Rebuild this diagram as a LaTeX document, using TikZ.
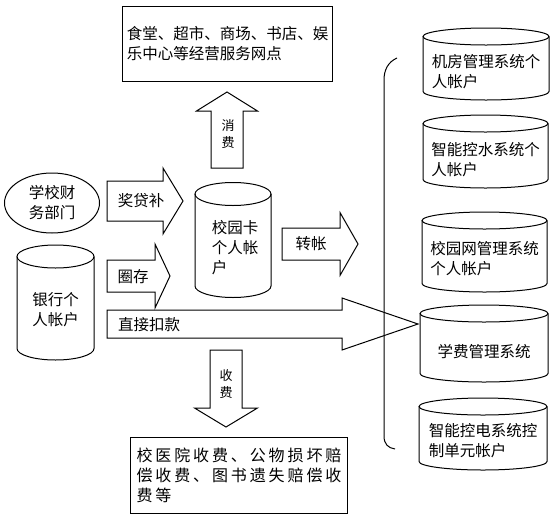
\documentclass[tikz,border=0pt]{standalone}
\usepackage{fontspec}
\setmainfont{Noto Sans CJK SC}
\newfontfamily\widecjk[LetterSpace=18]{Noto Sans CJK SC}
\usetikzlibrary{shapes.geometric}

% block arrows: tail, head base, tip, middle, shaft half width, head half width
\newcommand{\harr}[6]{%
  \draw[barr] (#1,#4-#5) -- (#2,#4-#5) -- (#2,#4-#6) -- (#3,#4)
    -- (#2,#4+#6) -- (#2,#4+#5) -- (#1,#4+#5) -- cycle;}
\newcommand{\varr}[6]{%
  \draw[barr] (#4-#5,#1) -- (#4-#5,#2) -- (#4-#6,#2) -- (#4,#3)
    -- (#4+#6,#2) -- (#4+#5,#2) -- (#4+#5,#1) -- cycle;}
% cylinders: centre x, centre y, half width, half height, end radius
\newcommand{\can}[5]{%
  \draw[canline] (#1,#2-#4+#5) ellipse[x radius=#3,y radius=#5];
  \draw[canline] (#1-#3,#2-#4+#5) -- (#1-#3,#2+#4-#5)
    arc[start angle=180,end angle=0,x radius=#3,y radius=#5] -- (#1+#3,#2-#4+#5);}

\begin{document}
\begin{tikzpicture}[
  x=1pt,y=-1pt,
  every node/.style={font=\fontsize{15.5}{20}\selectfont,inner sep=0pt,align=left},
  box/.style={draw,line width=1pt,rectangle,anchor=north west},
  canline/.style={line width=1pt},
  small/.style={font=\fontsize{13}{17}\selectfont,align=center},
  barr/.style={draw,line width=1pt,line join=miter}
]
\useasboundingbox (0,0) rectangle (557,520);

% boxes
\node[box,minimum width=210,minimum height=75] (shop) at (122,6)
  {食堂、超市、商场、书店、娱\\乐中心等经营服务网点};
\node[box,minimum width=217,minimum height=76,
  font=\widecjk\fontsize{16}{20}\selectfont] (fees) at (130,437)
  {校医院收费、公物损坏赔\\偿收费、图书遗失赔偿收\\费等};
\node[draw,line width=1pt,ellipse,minimum width=95,minimum height=60,align=center]
  (finance) at (52,203) {学校财\\务部门};

% left cylinders
\can{55.5}{302.5}{38.5}{57.5}{11.5}
\can{233}{240}{38}{57.5}{11.5}
\node (bank) at (55.5,310) {银行个\\人帐户};
\node (card) at (235,248) {校园卡\\个人帐\\户};

% right cylinders
\can{486}{64}{63}{36}{8.5}
\can{485.5}{151.5}{62.5}{36.5}{8.5}
\can{484.5}{252}{62.5}{40}{8.5}
\can{484}{343.5}{64}{38.5}{8.5}
\can{483}{434}{64}{36}{8.5}
\node (r1) at (486,72) {机房管理系统个\\人帐户};
\node (r2) at (485.5,160) {智能控水系统个\\人帐户};
\node (r3) at (484.5,259) {校园网管理系统\\个人帐户};
\node (r4) at (484,352) {学费管理系统};
\node (r5) at (483,441) {智能控电系统控\\制单元帐户};

% bracket
\draw[line width=1pt] (397,58) .. controls (388,62) and (384,70) .. (384,80)
  -- (384,436) .. controls (384,444) and (388,448) .. (395,449);

% block arrows
\harr{107}{163}{183}{201}{20}{33}
\harr{107}{155}{170}{276}{16}{32}
\harr{107}{342}{418}{324}{14}{26}
\harr{282}{340}{358}{244}{16}{31.5}
\varr{168}{111}{92}{227}{16}{30.5}
\varr{350}{408}{427}{226}{16}{31.5}

\node (aid) at (141,201) {奖贷补};
\node (load) at (133,277) {圈存};
\node (debit) at (149,325) {直接扣款};
\node (xfer) at (311,244) {转帐};
\node[small] (spend) at (228,134) {消\\费};
\node[small] (charge) at (226,384) {收\\费};
\end{tikzpicture}
\end{document}
